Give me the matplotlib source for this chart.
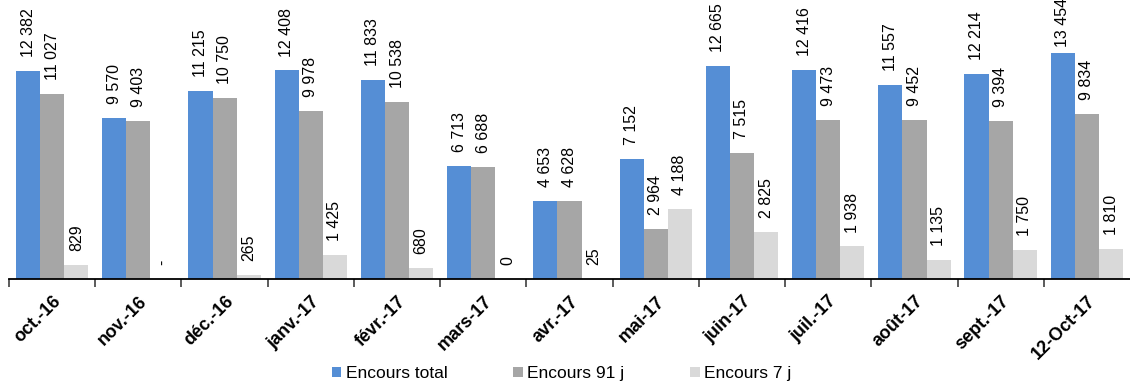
import numpy as np
import matplotlib
matplotlib.use("Agg")
import matplotlib.pyplot as plt

plt.rcParams["font.family"] = ["Liberation Sans", "DejaVu Sans"]

months = ["oct.-16", "nov.-16", "déc.-16", "janv.-17", "févr.-17", "mars-17", "avr.-17",
          "mai-17", "juin-17", "juil.-17", "août-17", "sept.-17", "12-Oct-17"]
encours_total = [12382, 9570, 11215, 12408, 11833, 6713, 4653, 7152, 12665, 12416, 11557, 12214, 13454]
encours_91j = [11027, 9403, 10750, 9978, 10538, 6688, 4628, 2964, 7515, 9473, 9452, 9394, 9834]
encours_7j = [829, np.nan, 265, 1425, 680, 0, 25, 4188, 2825, 1938, 1135, 1750, 1810]

series = [("Encours total", encours_total, "#558ED5"),
          ("Encours 91 j", encours_91j, "#A6A6A6"),
          ("Encours 7 j", encours_7j, "#D9D9D9")]

def fmt(v):
    if np.isnan(v):
        return "-"
    return f"{int(v):,}".replace(",", " ")

fig = plt.figure(figsize=(11.3, 3.87), dpi=100)
ax = fig.add_axes([0.008, 0.279, 0.992, 0.721])

x = np.arange(len(months))
w = 0.28
labels = []
for i, (name, vals, col) in enumerate(series):
    vals = np.array(vals, dtype=float)
    pos = x + (i - 1) * w
    ax.bar(pos, np.nan_to_num(vals), width=w, color=col, label=name, zorder=2)
    for p, v in zip(pos, vals):
        h = 0 if np.isnan(v) else v
        t = ax.annotate(fmt(v), (p, h), xytext=(0, 10), textcoords="offset points",
                        rotation=90, ha="center", va="bottom", fontsize=11.5)
        labels.append(t)

ax.set_xlim(-0.5, len(months) - 0.5)
ax.set_ylim(0, 16600)
ax.set_yticks([])
for s in ["top", "right", "left"]:
    ax.spines[s].set_visible(False)
ax.spines["bottom"].set_linewidth(1.3)

ax.set_xticks(x - 0.5, minor=False)
ax.set_xticklabels([])
ax.tick_params(axis="x", length=6, width=1.2, direction="out", color="#404040")
ax.set_xticks(x, minor=True)
ax.set_xticklabels(months, minor=True, rotation=45, ha="right", rotation_mode="anchor",
                   fontsize=13, fontweight="bold")
ax.tick_params(axis="x", which="minor", length=0, pad=10)
for lab in ax.get_xticklabels(minor=True):
    lab.set_x(lab.get_position()[0])

fig.legend(loc="lower center", bbox_to_anchor=(0.497, -0.025), ncol=3, frameon=False,
           fontsize=12.5, handlelength=0.55, handleheight=0.55, handletextpad=0.25,
           columnspacing=3.8)

# keep value labels inside the figure (push down when they would overflow)
fig.canvas.draw()
r = fig.canvas.get_renderer()
for t in labels:
    bb = t.get_window_extent(r)
    top = fig.bbox.height + 2
    if bb.y1 > top:
        off = 10 - (bb.y1 - top) * 72 / fig.dpi
        t.set_position((0, off))

fig.savefig("out.png", dpi=100)
